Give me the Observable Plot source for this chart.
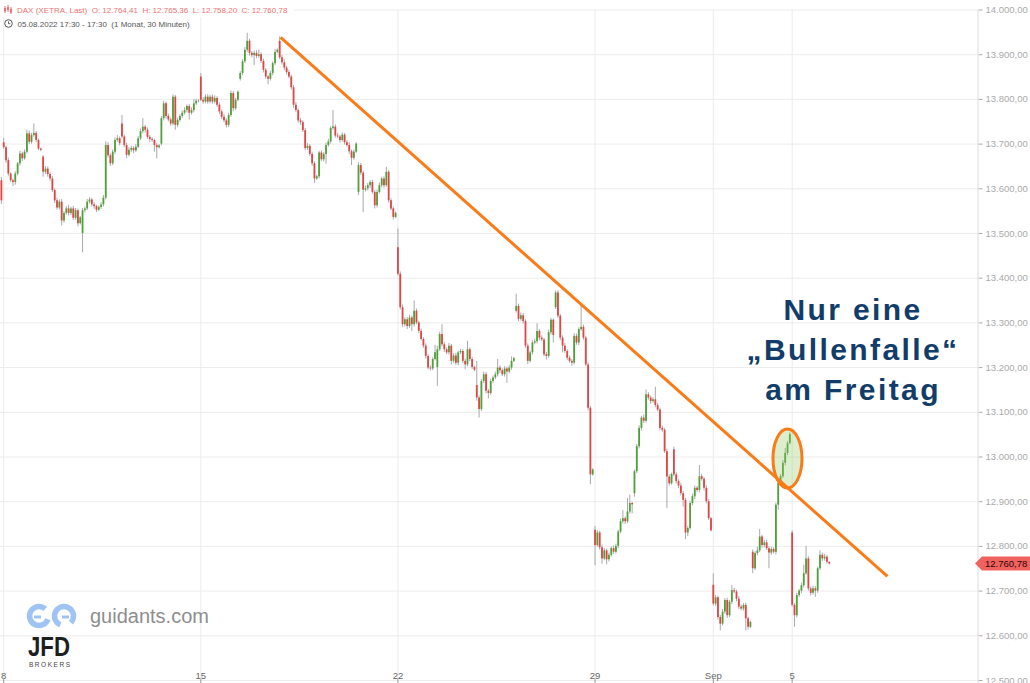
<!DOCTYPE html>
<html><head><meta charset="utf-8">
<script src="https://cdn.jsdelivr.net/npm/d3@7"></script>
<script src="https://cdn.jsdelivr.net/npm/@observablehq/plot@0.6"></script>
<style>
html,body{margin:0;padding:0;background:#fff;}
#wrap{position:relative;width:1030px;height:683px;overflow:hidden;}
#wrap svg{display:block;}
</style></head>
<body><div id="wrap"></div>
<script>
// ---- axis labels ----
const dayLabels = ["8", "15", "22", "29", "Sep", "5"];
const dayLabelIdx = [0, 5, 10, 15, 18, 20];
const yTicks = [12500, 12600, 12700, 12800, 12900, 13000, 13100, 13200, 13300, 13400, 13500, 13600, 13700, 13800, 13900, 14000];

// ---- 30-minute candles, one row per trading day (08.08. - 05.09.2022) ----
const prevOHLC = [13618, 13625, 13565, 13573]; // last candle of 05.08.
const dayOpen = [13703, 13671, 13500, 13745, 13700, 13850, 13845, 13930, 13627, 13592, 13468, 13200, 13160, 13326, 13334, 12836, 12918, 13016, 12713, 12787, 12830];
const closes = [
  [13692, 13663, 13633, 13618, 13614, 13633, 13656, 13678, 13667, 13682, 13723, 13704, 13719, 13724, 13708, 13689, 13686],
  [13637, 13644, 13632, 13622, 13596, 13573, 13557, 13570, 13528, 13545, 13555, 13545, 13555, 13534, 13551, 13522, 13535],
  [13551, 13555, 13570, 13575, 13564, 13560, 13552, 13558, 13564, 13579, 13697, 13674, 13656, 13682, 13708, 13712, 13701],
  [13716, 13697, 13675, 13686, 13690, 13685, 13693, 13712, 13728, 13738, 13731, 13715, 13710, 13708, 13697, 13692, 13696],
  [13757, 13790, 13762, 13754, 13745, 13805, 13742, 13753, 13762, 13769, 13775, 13784, 13769, 13775, 13790, 13796, 13795],
  [13798, 13794, 13805, 13794, 13805, 13794, 13802, 13787, 13772, 13760, 13752, 13742, 13764, 13813, 13779, 13798, 13816],
  [13858, 13884, 13910, 13930, 13903, 13898, 13903, 13896, 13900, 13885, 13865, 13850, 13845, 13858, 13880, 13905, 13910],
  [13893, 13882, 13870, 13860, 13850, 13826, 13787, 13775, 13752, 13748, 13730, 13690, 13695, 13677, 13656, 13622, 13627],
  [13680, 13665, 13677, 13697, 13705, 13735, 13738, 13718, 13716, 13708, 13720, 13703, 13697, 13683, 13668, 13682, 13700],
  [13652, 13635, 13597, 13600, 13607, 13614, 13592, 13562, 13592, 13607, 13622, 13607, 13637, 13573, 13555, 13536, 13545],
  [13409, 13334, 13296, 13307, 13292, 13311, 13296, 13326, 13300, 13281, 13263, 13248, 13225, 13199, 13197, 13218, 13233],
  [13240, 13274, 13251, 13240, 13233, 13248, 13214, 13226, 13210, 13233, 13236, 13214, 13206, 13240, 13218, 13200, 13194],
  [13132, 13106, 13169, 13184, 13147, 13142, 13169, 13177, 13184, 13199, 13193, 13184, 13197, 13190, 13199, 13214, 13220],
  [13337, 13308, 13316, 13303, 13248, 13214, 13233, 13255, 13258, 13281, 13266, 13262, 13229, 13225, 13278, 13306, 13272],
  [13367, 13315, 13266, 13248, 13236, 13221, 13214, 13210, 13270, 13255, 13285, 13290, 13266, 13206, 13109, 12960, 12971],
  [12802, 12830, 12797, 12772, 12790, 12770, 12780, 12795, 12787, 12800, 12832, 12855, 12862, 12855, 12877, 12896, 12893],
  [12967, 13023, 13064, 13087, 13080, 13139, 13132, 13124, 13128, 13115, 13105, 13064, 13060, 13012, 12955, 12940, 12961],
  [12960, 12945, 12935, 12918, 12903, 12830, 12840, 12896, 12911, 12930, 12925, 12956, 12950, 12930, 12900, 12862, 12835],
  [12671, 12685, 12641, 12626, 12653, 12679, 12645, 12675, 12701, 12698, 12682, 12664, 12660, 12668, 12638, 12619, 12630],
  [12750, 12784, 12790, 12821, 12802, 12808, 12795, 12785, 12793, 12787, 12892, 12941, 12956, 12986, 13008, 13030, 13050],
  [12668, 12645, 12690, 12700, 12712, 12739, 12772, 12705, 12695, 12705, 12700, 12750, 12780, 12772, 12776, 12764.41, 12760.78]
];
// wick length above / below the body, in index points
const wickUp = [
  [10, 4, 6, 3, 4, 5, 3, 6, 4, 5, 8, 6, 5, 21, 4, 3, 2],
  [3, 6, 5, 4, 5, 4, 6, 5, 6, 4, 5, 8, 4, 6, 5, 4, 3],
  [5, 4, 6, 5, 4, 5, 3, 4, 5, 6, 8, 6, 4, 5, 6, 7, 4],
  [19, 4, 5, 6, 5, 4, 6, 5, 6, 19, 4, 5, 4, 5, 3, 4, 3],
  [5, 6, 4, 5, 4, 5, 4, 5, 4, 5, 6, 4, 5, 6, 10, 4, 3],
  [8, 6, 5, 6, 4, 5, 6, 4, 5, 4, 6, 4, 5, 6, 5, 4, 3],
  [4, 5, 6, 18, 5, 4, 5, 6, 10, 4, 5, 4, 3, 5, 4, 6, 3],
  [10, 5, 6, 4, 5, 4, 5, 6, 4, 5, 4, 5, 6, 4, 5, 4, 3],
  [4, 5, 4, 5, 6, 4, 37, 5, 6, 4, 5, 4, 5, 6, 4, 5, 3],
  [6, 5, 4, 6, 5, 4, 5, 4, 5, 6, 4, 5, 11, 4, 5, 4, 3],
  [42, 5, 6, 4, 5, 6, 4, 23, 5, 4, 5, 4, 5, 4, 5, 4, 17],
  [8, 5, 22, 5, 4, 6, 4, 5, 6, 4, 5, 4, 5, 19, 4, 5, 3],
  [54, 5, 4, 6, 5, 4, 5, 4, 6, 19, 5, 4, 5, 4, 6, 10, 3],
  [27, 5, 6, 5, 4, 5, 4, 5, 6, 17, 4, 5, 4, 5, 6, 4, 3],
  [4, 5, 4, 5, 6, 4, 5, 4, 6, 5, 4, 48, 5, 4, 5, 4, 3],
  [9, 5, 4, 6, 5, 4, 5, 4, 6, 5, 4, 6, 18, 4, 30, 19, 3],
  [4, 5, 6, 4, 7, 11, 5, 4, 5, 28, 5, 4, 5, 4, 6, 5, 3],
  [6, 5, 4, 6, 5, 4, 5, 4, 6, 5, 4, 25, 5, 4, 6, 5, 3],
  [26, 5, 4, 5, 6, 4, 5, 4, 11, 5, 4, 6, 5, 4, 5, 4, 3],
  [5, 4, 8, 17, 4, 5, 6, 4, 5, 4, 5, 4, 5, 6, 11, 5, 4],
  [5, 4, 5, 4, 6, 19, 28, 5, 4, 6, 5, 4, 10, 5, 6, 4, 0.95]
];
const wickDown = [
  [4, 6, 5, 4, 9, 6, 4, 5, 6, 3, 4, 5, 4, 3, 5, 4, 3],
  [11, 5, 6, 5, 4, 6, 5, 4, 11, 5, 4, 6, 5, 5, 4, 7, 3],
  [43, 5, 4, 4, 5, 6, 5, 3, 4, 5, 4, 5, 6, 4, 5, 4, 5],
  [4, 5, 8, 4, 5, 6, 4, 3, 4, 5, 6, 4, 6, 4, 15, 25, 3],
  [4, 5, 6, 4, 5, 4, 11, 5, 4, 5, 4, 5, 15, 4, 5, 4, 3],
  [3, 5, 4, 5, 4, 5, 4, 5, 6, 5, 4, 6, 5, 4, 6, 4, 3],
  [4, 5, 4, 5, 6, 5, 22, 5, 4, 5, 6, 5, 12, 4, 5, 4, 3],
  [4, 5, 6, 5, 4, 5, 7, 4, 5, 6, 4, 5, 4, 5, 6, 10, 3],
  [5, 4, 5, 22, 4, 5, 4, 5, 4, 6, 4, 5, 4, 6, 16, 4, 3],
  [7, 5, 50, 4, 5, 6, 4, 7, 5, 4, 5, 6, 4, 5, 4, 6, 3],
  [4, 5, 6, 5, 7, 4, 15, 5, 4, 5, 4, 5, 6, 4, 5, 4, 3],
  [42, 4, 5, 6, 4, 5, 8, 4, 5, 6, 4, 5, 11, 4, 5, 4, 3],
  [7, 19, 4, 5, 6, 12, 4, 5, 4, 5, 6, 4, 5, 25, 4, 5, 3],
  [4, 5, 4, 6, 5, 7, 4, 5, 4, 5, 6, 4, 5, 8, 4, 5, 17],
  [4, 5, 6, 15, 4, 5, 4, 7, 4, 5, 6, 4, 5, 4, 6, 22, 3],
  [45, 4, 5, 12, 4, 11, 5, 4, 5, 4, 5, 4, 5, 6, 4, 5, 20],
  [8, 4, 5, 6, 5, 4, 5, 6, 4, 5, 4, 6, 5, 4, 70, 5, 3],
  [4, 5, 6, 5, 15, 15, 8, 4, 5, 6, 4, 5, 4, 6, 5, 4, 3],
  [4, 5, 6, 15, 4, 5, 6, 4, 5, 4, 6, 5, 4, 5, 27, 6, 3],
  [11, 4, 5, 4, 6, 5, 4, 35, 5, 4, 6, 11, 5, 4, 6, 5, 3],
  [4, 26, 5, 4, 6, 5, 4, 5, 6, 4, 14, 5, 4, 6, 5, 4, 2.58]
];
// hand-drawn resistance line (candle index, price) and the marked Friday spike
const trendT = [119.4, 381.1];
const trendP = [13938.5, 12732.7];
const markT = 338.2, markP = 12995.5;

// ---- build candles ----
const perDay = 17;
const candles = [{t: -1, o: prevOHLC[0], h: prevOHLC[1], l: prevOHLC[2], c: prevOHLC[3]}];
closes.forEach((day, k) => day.forEach((c, i) => {
  const o = i === 0 ? dayOpen[k] : day[i - 1];
  candles.push({t: k * perDay + i, o, c, h: Math.max(o, c) + wickUp[k][i], l: Math.min(o, c) - wickDown[k][i]});
}));
const last = candles[candles.length - 1];
const trendRow = [{t1: trendT[0], p1: trendP[0], t2: trendT[1], p2: trendP[1]}];

const de = d3.formatLocale({decimal: ",", thousands: ".", grouping: [3], currency: ["", " €"]});
const fmt = de.format(",.2f");

const xDomain = [-1.38, 420.14];
const yMin = 12493.3;
const GREEN = "#4ea13a", RED = "#df4542", ORANGE = "#fa7b17";

const plot = Plot.plot({
  width: 1030, height: 683,
  marginLeft: 0, marginRight: 52.5, marginTop: 9.5, marginBottom: 0,
  x: {domain: xDomain, axis: null},
  y: {domain: [yMin, 14000], axis: "right", ticks: yTicks, tickFormat: fmt, tickSize: 4, tickPadding: 3.5},
  style: {fontFamily: "'Liberation Sans', Arial, sans-serif", fontSize: "9.5px", color: "#aaa", background: "#fff"},
  marks: [
    Plot.ruleY(yTicks, {stroke: "#ececec"}),
    Plot.ruleX(dayLabelIdx, {x: d => d * perDay, stroke: "#ececec"}),
    Plot.ruleX([xDomain[1]], {stroke: "#dddddd"}),
    Plot.ruleX(candles, {x: "t", y1: "l", y2: "h", stroke: "#a9a9a9", strokeWidth: 1}),
    Plot.ruleX(candles.filter(d => d.c >= d.o), {x: "t", y1: "o", y2: "c", stroke: GREEN, strokeWidth: 1.8}),
    Plot.ruleX(candles.filter(d => d.c < d.o), {x: "t", y1: "o", y2: "c", stroke: RED, strokeWidth: 1.8}),
    Plot.text(dayLabels, {x: (d, i) => dayLabelIdx[i] * perDay, y: 12511, text: d => d, fill: "#666", fontSize: 9.5}),
    Plot.ruleX(dayLabelIdx, {x: d => d * perDay, y1: yMin, y2: 12502, stroke: "#999"}),
    Plot.link(trendRow, {x1: "t1", y1: "p1", x2: "t2", y2: "p2", stroke: ORANGE, strokeWidth: 3, strokeLinecap: "butt", ariaLabel: "trend"})
  ]
});
document.getElementById("wrap").appendChild(plot);

const sx = plot.scale("x"), sy = plot.scale("y");
const svg = d3.select(plot);
const FONT = "'Liberation Sans', Arial, sans-serif";

// ellipse around Friday's spike (under the trend line)
const ell = document.createElementNS("http://www.w3.org/2000/svg", "ellipse");
ell.setAttribute("cx", sx.apply(markT));
ell.setAttribute("cy", sy.apply(markP));
ell.setAttribute("rx", 14.5);
ell.setAttribute("ry", 29.5);
ell.setAttribute("fill", "rgba(140,200,90,0.3)");
ell.setAttribute("stroke", ORANGE);
ell.setAttribute("stroke-width", 3);
const trendG = plot.querySelector('g[aria-label="trend"]') || plot.querySelector('g[aria-label="link"]');
if (trendG && trendG.parentNode) trendG.parentNode.insertBefore(ell, trendG); else plot.appendChild(ell);

// annotation
const ann = svg.append("g").attr("font-family", FONT).attr("font-weight", "bold")
  .attr("font-size", 30).attr("fill", "#123c69").attr("text-anchor", "middle").attr("letter-spacing", 2.4);
[["Nur eine", 320], ["„Bullenfalle“", 360], ["am Freitag", 400]].forEach(([s, y]) =>
  ann.append("text").attr("x", 853).attr("y", y).text(s));

// last price tag
const py = sy.apply(last.c);
svg.append("path")
  .attr("d", `M975,${py} L982,${py - 7} L1030,${py - 7} L1030,${py + 7} L982,${py + 7} Z`)
  .attr("fill", "#f0625e");
svg.append("text").attr("x", 985).attr("y", py + 3.4).attr("font-family", FONT).attr("font-size", 9.5)
  .attr("text-anchor", "start").attr("fill", "#2a0505").text(fmt(last.c));

// header
const hdr = svg.append("g").attr("font-family", FONT).attr("font-size", 8).attr("text-anchor", "start");
hdr.append("rect").attr("x", 0).attr("y", 0).attr("width", 294).attr("height", 17).attr("fill", "#fff");
const ic = hdr.append("g").attr("stroke", "#f07272").attr("stroke-width", 1);
[[5, 6, 13], [8, 5, 12], [11, 7, 14]].forEach(([x, a, b]) => ic.append("line").attr("x1", x).attr("x2", x).attr("y1", a).attr("y2", b));
[[5, 8, 11.5], [8, 7, 10], [11, 9, 12.5]].forEach(([x, a, b]) => ic.append("rect").attr("x", x - 1).attr("y", a).attr("width", 2).attr("height", b - a).attr("fill", "#f07272").attr("stroke", "none"));
hdr.append("text").attr("x", 17).attr("y", 13).attr("fill", "#f07272").attr("xml:space", "preserve")
  .text(`DAX (XETRA, Last)  O: ${fmt(last.o)}  H: ${fmt(last.h)}  L: ${fmt(last.l)}  C: ${fmt(last.c)}`);
hdr.append("circle").attr("cx", 8.5).attr("cy", 23.5).attr("r", 3.8).attr("fill", "none").attr("stroke", "#555").attr("stroke-width", 1);
hdr.append("path").attr("d", "M8.5,21.3 V23.7 H10.3").attr("fill", "none").attr("stroke", "#555").attr("stroke-width", 0.9);
hdr.append("text").attr("x", 17.5).attr("y", 27).attr("fill", "#555").attr("xml:space", "preserve")
  .text("05.08.2022 17:30 - 17:30  (1 Monat, 30 Minuten)");

// logo
const lg = svg.append("g").attr("text-anchor", "start");
const BLUE = "#9fc4f3";
lg.append("circle").attr("cx", 39).attr("cy", 616).attr("r", 9.5).attr("fill", "none").attr("stroke", BLUE)
  .attr("stroke-width", 5.5).attr("stroke-dasharray", "48 11.7").attr("transform", "rotate(20 39 616)");
lg.append("circle").attr("cx", 64).attr("cy", 616).attr("r", 9.5).attr("fill", "none").attr("stroke", BLUE)
  .attr("stroke-width", 5.5).attr("stroke-dasharray", "48 11.7").attr("transform", "rotate(112 64 616)");
lg.append("line").attr("x1", 34).attr("x2", 41).attr("y1", 617).attr("y2", 617).attr("stroke", BLUE).attr("stroke-width", 3);
lg.append("line").attr("x1", 62).attr("x2", 69).attr("y1", 617).attr("y2", 617).attr("stroke", BLUE).attr("stroke-width", 3);
lg.append("text").attr("x", 90).attr("y", 623).attr("font-family", FONT).attr("font-size", 20).attr("fill", "#8e8e8e").text("guidants.com");
lg.append("text").attr("x", 28).attr("y", 656).attr("font-family", FONT).attr("font-size", 28).attr("font-weight", "bold")
  .attr("fill", "#1e1e1e").attr("textLength", 42).attr("lengthAdjust", "spacingAndGlyphs").text("JFD");
lg.append("text").attr("x", 29).attr("y", 667).attr("font-family", FONT).attr("font-size", 6.5)
  .attr("fill", "#444").attr("textLength", 41).attr("lengthAdjust", "spacing").text("BROKERS");
</script>
</body></html>
